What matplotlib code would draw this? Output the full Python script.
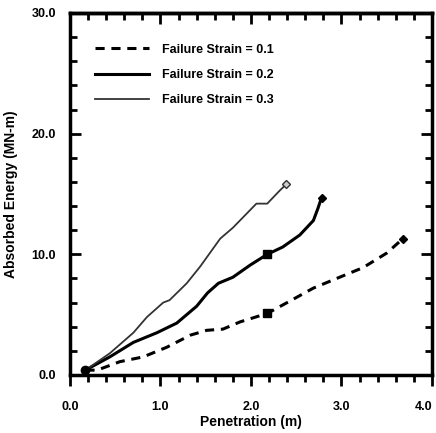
import matplotlib.pyplot as plt
from matplotlib.ticker import MultipleLocator, FormatStrFormatter

# Penetration (m) vs absorbed energy (MN-m)
pen_01 = [0.17, 0.30, 0.55, 0.81, 1.07, 1.33, 1.51, 1.69, 1.88, 2.18, 2.40, 2.69, 2.98, 3.24, 3.50, 3.68]
eng_01 = [0.4, 0.4, 1.1, 1.5, 2.3, 3.3, 3.7, 3.8, 4.4, 5.1, 6.0, 7.2, 8.1, 8.9, 10.1, 11.3]

pen_02 = [0.17, 0.44, 0.70, 0.96, 1.18, 1.40, 1.52, 1.64, 1.80, 1.99, 2.18, 2.35, 2.54, 2.69, 2.74, 2.78]
eng_02 = [0.4, 1.5, 2.7, 3.5, 4.3, 5.7, 6.8, 7.6, 8.1, 9.1, 10.0, 10.6, 11.6, 12.8, 13.8, 14.7]

pen_03 = [0.17, 0.44, 0.70, 0.85, 1.03, 1.10, 1.29, 1.44, 1.66, 1.80, 2.06, 2.18, 2.32, 2.39]
eng_03 = [0.4, 1.8, 3.5, 4.8, 6.0, 6.2, 7.6, 9.0, 11.3, 12.2, 14.2, 14.2, 15.3, 15.8]

labels = ["Failure Strain = 0.1", "Failure Strain = 0.2", "Failure Strain = 0.3"]

x_ticks = [0.0, 1.0, 2.0, 3.0, 4.0]
y_ticks = [0.0, 10.0, 20.0, 30.0]

# square markers at mid-run
sq_pen = [2.18, 2.18]
sq_eng = [5.1, 10.0]

plt.rcParams['font.family'] = ['Liberation Sans', 'DejaVu Sans']
plt.rcParams['font.weight'] = 'bold'

fig = plt.figure(figsize=(4.36, 4.33), dpi=100)
ax = fig.add_axes([0.1606, 0.134, 0.830, 0.836])

ax.plot(pen_01, eng_01, color='black', lw=2.2, ls=(0, (3, 2.2)), label=labels[0])
ax.plot(pen_02, eng_02, color='black', lw=2.2, label=labels[1])
ax.plot(pen_03, eng_03, color='#333333', lw=1.3, label=labels[2])

# start point, squares and end diamonds
ax.plot([pen_01[0]], [eng_01[0]], 'o', color='black', ms=6)
ax.plot(sq_pen, sq_eng, 's', color='black', ms=6)
ax.plot([pen_01[-1], pen_02[-1]], [eng_01[-1], eng_02[-1]], 'D', color='black', ms=4.5)
ax.plot([pen_03[-1]], [eng_03[-1]], 'D', mfc='#cccccc', mec='#333333', ms=4.5, mew=1)

ax.set_xlim(0, 4)
ax.set_ylim(0, 30)
ax.set_xticks(x_ticks)
ax.set_yticks(y_ticks)
ax.xaxis.set_minor_locator(MultipleLocator(0.2))
ax.yaxis.set_minor_locator(MultipleLocator(2.0))
ax.xaxis.set_major_formatter(FormatStrFormatter('%.1f'))
ax.yaxis.set_major_formatter(FormatStrFormatter('%.1f'))

for s in ax.spines.values():
    s.set_linewidth(2.5)

tick_font = ['Liberation Sans Narrow', 'Liberation Sans']
ax.tick_params(which='both', width=2, labelsize=9)
ax.tick_params(axis='y', which='both', direction='in', right=True, pad=10)
ax.tick_params(axis='x', which='both', direction='out', pad=11)
ax.tick_params(which='major', length=8)
ax.tick_params(which='minor', length=5)
for lbl in ax.get_xticklabels() + ax.get_yticklabels():
    lbl.set_family(tick_font)
# last x label sits against the right edge
ax.get_xticklabels()[-1].set_horizontalalignment('right')

# top ticks point inward while bottom ones point outward
top = ax.secondary_xaxis('top')
top.set_xticks(x_ticks)
top.xaxis.set_minor_locator(MultipleLocator(0.2))
top.tick_params(which='both', direction='in', width=2, labeltop=False)
top.tick_params(which='major', length=8)
top.tick_params(which='minor', length=5)
top.spines['top'].set_linewidth(2.5)

ax.set_xlabel("Penetration (m)", fontsize=10, fontweight='bold', labelpad=1)
ax.set_ylabel("Absorbed Energy (MN-m)", fontsize=10, fontweight='bold')
ax.yaxis.set_label_coords(-0.143, 0.5)

leg = ax.legend(loc='upper left', frameon=False, fontsize=9, handlelength=4.3,
                handletextpad=1.0, labelspacing=1.05, borderpad=0, borderaxespad=0,
                bbox_to_anchor=(0.07, 0.915))

fig.savefig("out.png", dpi=100)
